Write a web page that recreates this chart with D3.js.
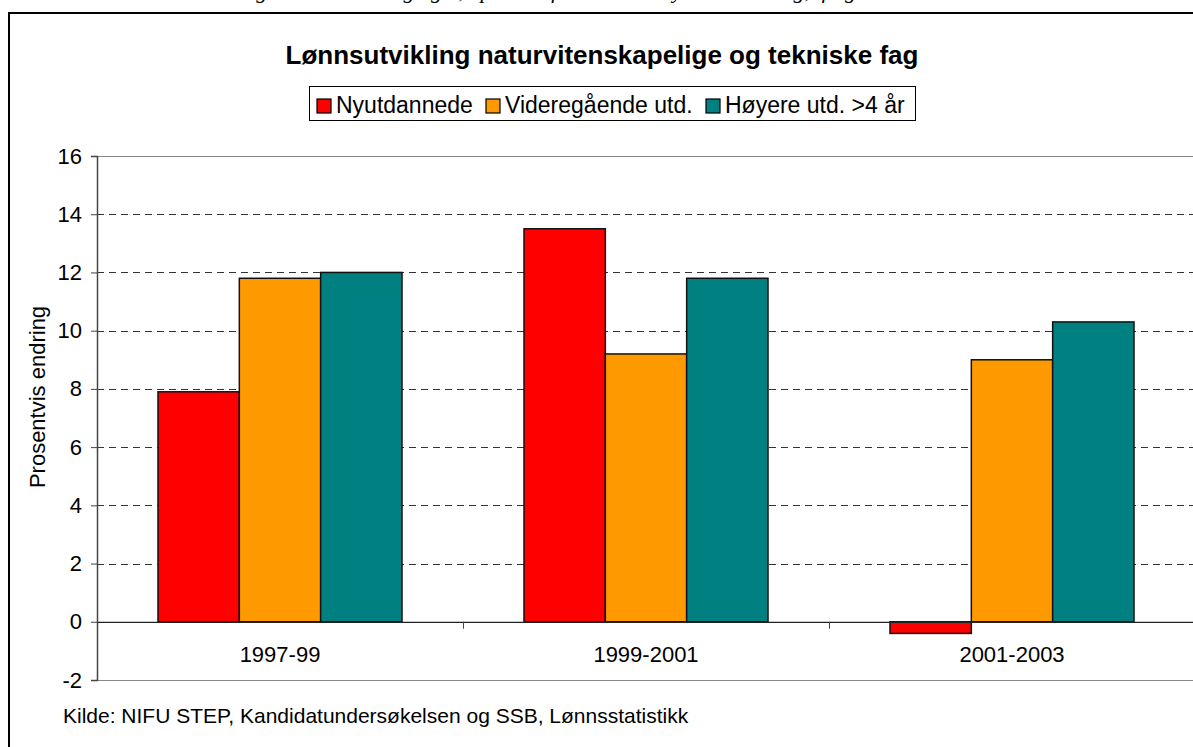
<!DOCTYPE html>
<html>
<head>
<meta charset="utf-8">
<script src="https://cdn.jsdelivr.net/npm/d3@7"></script>
<style>
  body { margin: 0; background: #fff; }
  svg { display: block; font-family: Arial, "Liberation Sans", sans-serif; }
</style>
</head>
<body>
<svg id="chart" width="1193" height="747"></svg>
<script>
// data
var periods = ["1997-99", "1999-2001", "2001-2003"];
var seriesNames = ["Nyutdannede", "Videregående utd.", "Høyere utd. >4 år"];
var nyutdannede = [7.9, 13.5, -0.4];
var videregaende = [11.8, 9.2, 9.0];
var hoyere = [12.0, 11.8, 10.3];
var yTicks = [-2, 0, 2, 4, 6, 8, 10, 12, 14, 16];
var colors = ["#ff0000", "#ff9900", "#008080"];

var svg = d3.select("#chart");

// piece of the text above the chart, mostly cut off by the image edge
svg.append("text")
  .attr("x", 160).attr("y", -2)
  .style("font-family", "'Liberation Serif', 'DejaVu Serif', serif")
  .style("font-style", "italic")
  .style("font-size", "22px")
  .attr("fill", "#000")
  .text("med videregående utdanning og 9,2 prosent for de med høyere utdanning, ifølge lønnsstatistikk");

// outer frame (goes past right/bottom edge)
svg.append("rect")
  .attr("x", 9).attr("y", 13)
  .attr("width", 1300).attr("height", 800)
  .attr("fill", "#fff").attr("stroke", "#000").attr("stroke-width", 2);

var plot = { left: 97, top: 156, right: 1195, bottom: 680 };

var x0 = d3.scaleBand().domain(periods).range([plot.left, plot.right]).paddingInner(0).paddingOuter(0);
// bars fill the middle two thirds of each category
var x1 = d3.scaleBand().domain(seriesNames)
  .range([x0.bandwidth() / 6, x0.bandwidth() * 5 / 6]).paddingInner(0).paddingOuter(0);

var y = d3.scaleLinear().domain([-2, 16]).range([plot.bottom, plot.top]);

// dashed gridlines
svg.append("g").selectAll("line")
  .data(yTicks.filter(function(d) { return d !== 0 && d !== -2 && d !== 16; }))
  .enter().append("line")
  .attr("x1", plot.left).attr("x2", plot.right)
  .attr("y1", function(d) { return Math.round(y(d)) + 0.5; })
  .attr("y2", function(d) { return Math.round(y(d)) + 0.5; })
  .attr("stroke", "#333").attr("stroke-width", 1)
  .attr("stroke-dasharray", "7,5");

// plot border top/bottom
svg.append("line").attr("x1", plot.left).attr("x2", plot.right)
  .attr("y1", plot.top + 0.5).attr("y2", plot.top + 0.5).attr("stroke", "#888");
svg.append("line").attr("x1", plot.left).attr("x2", plot.right)
  .attr("y1", plot.bottom + 0.5).attr("y2", plot.bottom + 0.5).attr("stroke", "#888");

// bars
var allSeries = [nyutdannede, videregaende, hoyere];
allSeries.forEach(function(vals, si) {
  svg.append("g").selectAll("rect")
    .data(vals)
    .enter().append("rect")
    .attr("x", function(d, i) { return x0(periods[i]) + x1(seriesNames[si]); })
    .attr("width", x1.bandwidth())
    .attr("y", function(d) { return y(Math.max(0, d)); })
    .attr("height", function(d) { return Math.abs(y(d) - y(0)); })
    .attr("fill", colors[si])
    .attr("stroke", "#111").attr("stroke-width", 1.5);
});

// y axis
var yAxis = d3.axisLeft(y).tickValues(yTicks).tickSize(6).tickPadding(9)
  .tickFormat(function(d) { return String(d); });
var gy = svg.append("g").attr("transform", "translate(" + plot.left + ",0)").call(yAxis);
gy.select(".domain").attr("stroke", "#444").attr("stroke-width", 1.5);
gy.selectAll(".tick line").attr("stroke", "#444");
gy.selectAll("text").style("font-size", "22px").attr("fill", "#000");

// zero line with category ticks
var xAxis = d3.axisBottom(x0).tickSize(0).tickPadding(25);
var gx = svg.append("g").attr("transform", "translate(0," + y(0) + ")").call(xAxis);
gx.select(".domain").attr("stroke", "#222").attr("stroke-width", 1.2);
gx.selectAll("text").style("font-size", "22px").attr("fill", "#000");
svg.append("g").selectAll("line")
  .data(periods.slice(1))
  .enter().append("line")
  .attr("x1", function(d) { return Math.round(x0(d)) + 0.5; })
  .attr("x2", function(d) { return Math.round(x0(d)) + 0.5; })
  .attr("y1", y(0)).attr("y2", y(0) + 7)
  .attr("stroke", "#444");

// y axis title
svg.append("text")
  .attr("transform", "translate(45," + 397 + ") rotate(-90)")
  .attr("text-anchor", "middle")
  .style("font-size", "22px")
  .text("Prosentvis endring");

// title
svg.append("text")
  .attr("x", 602).attr("y", 64)
  .attr("text-anchor", "middle")
  .style("font-size", "26px").style("font-weight", "bold")
  .text("Lønnsutvikling naturvitenskapelige og tekniske fag");

// legend
var legend = svg.append("g");
legend.append("rect")
  .attr("x", 309.5).attr("y", 86.5).attr("width", 606).attr("height", 34)
  .attr("fill", "#fff").attr("stroke", "#000");
var legendX = [317, 486, 706];
seriesNames.forEach(function(name, i) {
  legend.append("rect")
    .attr("x", legendX[i]).attr("y", 99).attr("width", 14).attr("height", 14)
    .attr("fill", colors[i]).attr("stroke", "#000").attr("stroke-width", 1.2);
  legend.append("text")
    .attr("x", legendX[i] + 19).attr("y", 113)
    .style("font-size", "23px")
    .text(name);
});

// source
svg.append("text")
  .attr("x", 63).attr("y", 723)
  .style("font-size", "21px")
  .text("Kilde: NIFU STEP, Kandidatundersøkelsen og SSB, Lønnsstatistikk");
</script>
</body>
</html>
